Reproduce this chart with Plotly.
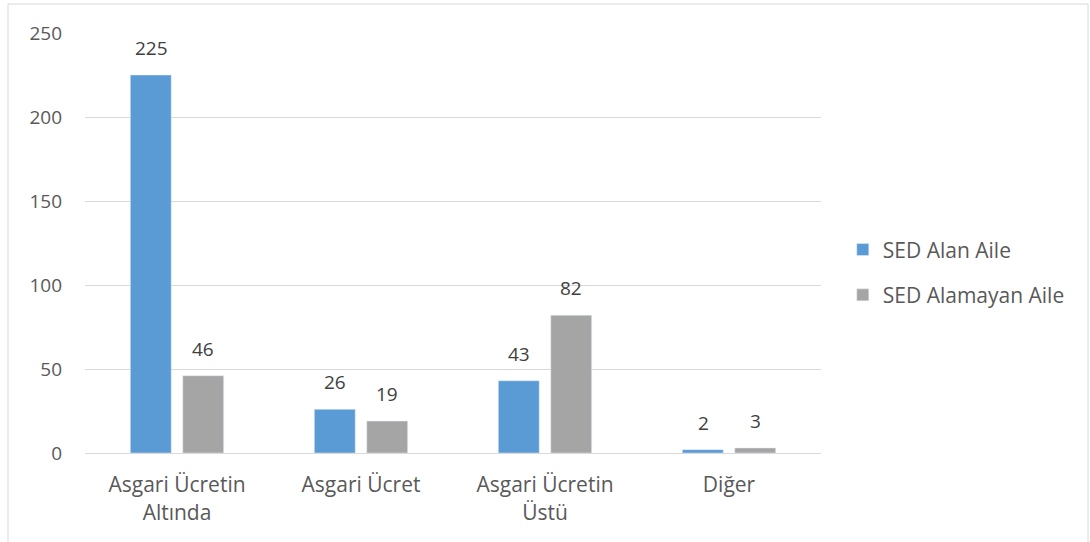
import plotly.graph_objects as go

categories = ["Asgari Ücretin<br>Altında", "Asgari Ücret", "Asgari Ücretin<br>Üstü", "Diğer"]
sed_alan = [225, 26, 43, 2]
sed_alamayan = [46, 19, 82, 3]
y_ticks = [0, 50, 100, 150, 200, 250]

FONT = "Open Sans, Lato, sans-serif"
FS = 19
fig = go.Figure()
fig.add_trace(go.Bar(name="SED Alan Aile", x=categories, y=sed_alan, marker_color="#5b9bd5",
                     legendgroup="a"))
fig.add_trace(go.Bar(name="SED Alamayan Aile", x=categories, y=sed_alamayan, marker_color="#a5a5a5",
                     legendgroup="b"))

annotations = []
for series, shift in ((sed_alan, -26), (sed_alamayan, 26)):
    for cat, val in zip(categories, series):
        annotations.append(dict(x=cat, y=val, text=str(val), showarrow=False, xshift=shift,
                                yshift=27, yanchor="middle",
                                font=dict(size=FS, color="#404040", family=FONT)))

fig.update_layout(
    width=1090, height=542,
    margin=dict(l=85, r=269, t=33, b=89),
    paper_bgcolor="white", plot_bgcolor="white",
    barmode="group", bargap=0.43, bargroupgap=0.22,
    font=dict(family=FONT, size=FS, color="#595959"),
    legend=dict(x=1.0296, y=0.43, xanchor="left", yanchor="middle",
                font=dict(size=21, color="#595959", family=FONT), traceorder="grouped",
                tracegroupgap=15, itemwidth=30),
    showlegend=True,
    annotations=annotations,
    shapes=[dict(type="rect", xref="paper", yref="paper", x0=-0.1046, x1=1.3628, y0=-0.3, y1=1.069,
                 line=dict(color="#d9d9d9", width=1), layer="below")],
)
fig.update_yaxes(range=[0, 250], tickvals=y_ticks, showgrid=True, gridcolor="#d9d9d9", gridwidth=1,
                 zeroline=False, showline=False, ticklabelstandoff=22,
                 tickfont=dict(size=FS, color="#595959", family=FONT))
fig.update_xaxes(showline=True, linecolor="#d9d9d9", linewidth=1, ticks="", ticklabelstandoff=13,
                 tickfont=dict(size=21, color="#595959", family=FONT))

fig.write_html("out.html", config={"displayModeBar": False},
               post_script="document.body.style.margin='0';document.body.style.overflow='hidden';")
